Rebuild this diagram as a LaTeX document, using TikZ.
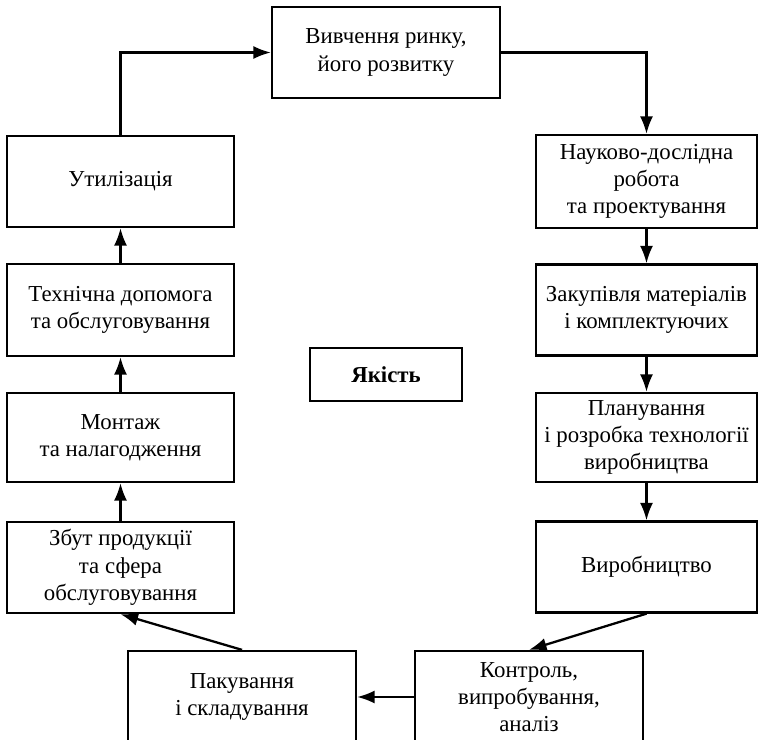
\documentclass[tikz,border=0pt]{standalone}
\usepackage{fontspec}
\setmainfont{Liberation Serif}
\usetikzlibrary{arrows.meta,positioning}

\tikzset{
  blok/.style={draw, line width=1.3pt, align=center, inner sep=2pt,
    minimum width=221*0.02cm, minimum height=91*0.02cm,
    font=\fontsize{13}{15.5}\selectfont},
  strilka/.style={line width=1.3pt, -{Latex[length=10pt,width=7.5pt]}}
}

\begin{document}
\begin{tikzpicture}[x=0.02cm, y=-0.02cm]
\useasboundingbox (0,0) rectangle (758,740);

\node[blok, minimum width=228*0.02cm] (rynok) at (386,52.5) {Вивчення ринку,\\ його розвитку};

\node[blok, minimum height=93*0.02cm] (nauk) at (646.5,181.5) {Науково-дослідна\\ робота\\ та проектування};
\node[blok] (zakup) at (646.5,310) {Закупівля матеріалів\\ і комплектуючих};
\node[blok, minimum height=89*0.02cm] (plan) at (646.5,437.5) {Планування\\ і розробка технології\\ виробництва};
\node[blok] (vyrob) at (646.5,567) {Виробництво};

\node[blok, minimum width=228*0.02cm, minimum height=92*0.02cm] (kontr) at (529,697) {Контроль,\\ випробування,\\ аналіз};
\node[blok, minimum width=228*0.02cm, minimum height=92*0.02cm] (pak) at (242,697) {Пакування\\ і складування};

\node[blok, minimum width=227*0.02cm] (zbut) at (120.5,567.5) {Збут продукції\\ та сфера\\ обслуговування};
\node[blok, minimum width=227*0.02cm, minimum height=89*0.02cm] (montazh) at (120.5,437.5) {Монтаж\\ та налагодження};
\node[blok, minimum width=227*0.02cm, minimum height=92*0.02cm] (tekhn) at (120.5,310) {Технічна допомога\\ та обслуговування};
\node[blok, minimum width=227*0.02cm] (util) at (120.5,181.5) {Утилізація};

\node[blok, minimum width=152*0.02cm, minimum height=53*0.02cm, font=\fontsize{13}{15.5}\selectfont\bfseries] (yakist) at (386,374.5) {Якість};

% cycle
\draw[strilka] (util.north) |- (rynok.west);
\draw[strilka] (rynok.east) -| (nauk.north);
\draw[strilka] (nauk) -- (zakup);
\draw[strilka] (zakup) -- (plan);
\draw[strilka] (plan) -- (vyrob);
\draw[strilka] (vyrob.south) -- (kontr.north);
\draw[strilka] (kontr) -- (pak);
\draw[strilka] (pak.north) -- (zbut.south);
\draw[strilka] (zbut) -- (montazh);
\draw[strilka] (montazh) -- (tekhn);
\draw[strilka] (tekhn) -- (util);

\end{tikzpicture}
\end{document}
